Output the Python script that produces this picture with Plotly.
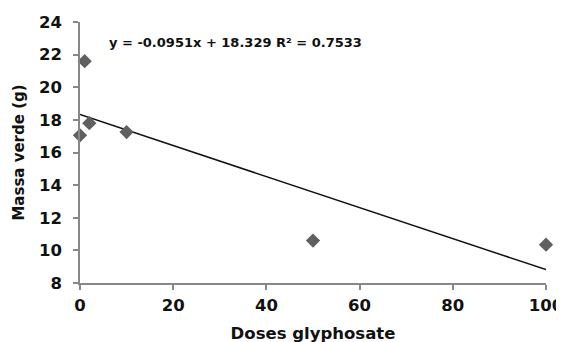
import numpy as np
import plotly.graph_objects as go

doses = [0, 1, 2, 10, 50, 100]
massa_verde = [17.05, 21.6, 17.8, 17.25, 10.6, 10.35]
slope = -0.0951
intercept = 18.329
r2 = 0.7533
x_ticks = [0, 20, 40, 60, 80, 100]
y_ticks = [8, 10, 12, 14, 16, 18, 20, 22, 24]

FONT = "DejaVu Sans"

line_x = np.array([min(doses), max(doses)], dtype=float)
line_y = slope * line_x + intercept

fig = go.Figure()
fig.add_trace(go.Scatter(x=line_x, y=line_y, mode="lines",
                         line=dict(color="#111111", width=1.5), showlegend=False,
                         cliponaxis=False))
fig.add_trace(go.Scatter(x=doses, y=massa_verde, mode="markers",
                         marker=dict(symbol="diamond", size=11, color="#606060",
                                     line=dict(width=0)),
                         showlegend=False, cliponaxis=False))

fig.add_annotation(x=0, y=1, xref="paper", yref="paper", xanchor="left", yanchor="middle",
                   xshift=27, yshift=-20, showarrow=False,
                   text=f"<b>y = {slope}x + {intercept} R² = {r2}</b>",
                   font=dict(family=FONT, size=13, color="#111111"))

axis_common = dict(showline=True, linecolor="#888888", linewidth=1.5, ticks="outside",
                   tickcolor="#888888", ticklen=5, tickwidth=1.5, showgrid=False, zeroline=False,
                   automargin=False,
                   tickfont=dict(family=FONT, size=16.5, color="#111111", weight="bold"))

fig.update_xaxes(range=[0, 100], tickvals=x_ticks, ticklabelstandoff=1,
                 title=dict(text="Doses glyphosate", standoff=14,
                            font=dict(family=FONT, size=16.5, color="#111111", weight="bold")),
                 **axis_common)
fig.update_yaxes(range=[8, 24], tickvals=y_ticks, ticklabelstandoff=8,
                 title=dict(text="Massa verde (g)", standoff=11,
                            font=dict(family=FONT, size=15, color="#111111", weight="bold")),
                 **axis_common)

# the page adds an 8px body margin, so the plot area is placed 8px up/left to compensate
fig.update_layout(width=564, height=342, margin=dict(l=72, r=26, t=14, b=67),
                  plot_bgcolor="white", paper_bgcolor="white")
fig.write_html("out.html")
